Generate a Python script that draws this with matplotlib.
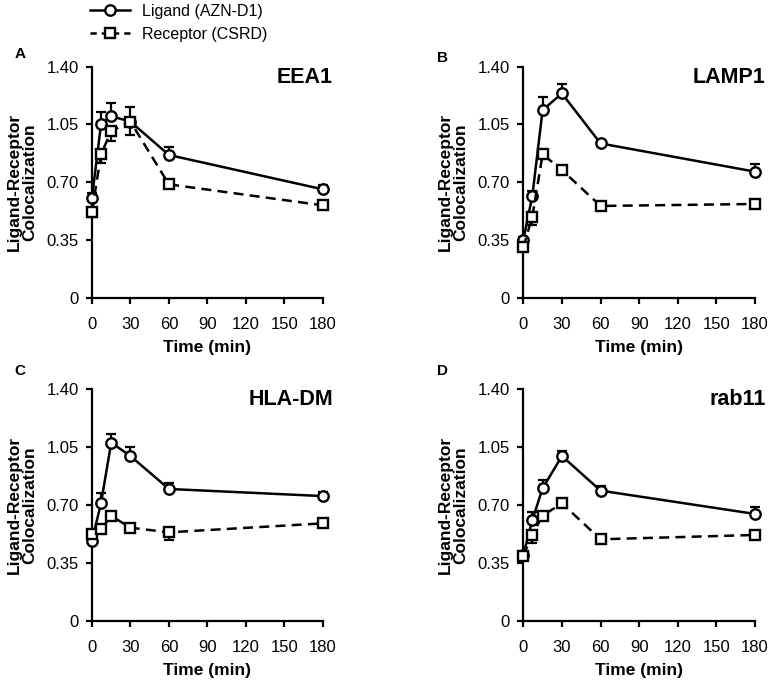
import matplotlib
matplotlib.use("Agg")
import matplotlib.pyplot as plt
from matplotlib.lines import Line2D

plt.rcParams.update({
    "font.family": "Liberation Sans",
    "axes.linewidth": 1.6,
    "xtick.major.width": 1.6,
    "ytick.major.width": 1.6,
    "xtick.major.size": 4.5,
    "ytick.major.size": 4.5,
    "xtick.labelsize": 12,
    "ytick.labelsize": 12,
})

# ---- data ----
time_min = [0, 7, 15, 30, 60, 180]
panels = ["A", "B", "C", "D"]
markers_names = ["EEA1", "LAMP1", "HLA-DM", "rab11"]

ligand = {
    "A": [0.606, 1.05, 1.10, 1.067, 0.865, 0.657],
    "B": [0.35, 0.616, 1.137, 1.238, 0.935, 0.764],
    "C": [0.483, 0.709, 1.076, 0.995, 0.796, 0.753],
    "D": [0.397, 0.608, 0.80, 0.995, 0.786, 0.645],
}
ligand_err = {
    "A": [0.03, 0.073, 0.08, 0.09, 0.05, 0.026],
    "B": [0.02, 0.03, 0.077, 0.057, 0.02, 0.046],
    "C": [0.02, 0.06, 0.05, 0.056, 0.034, 0.026],
    "D": [0.02, 0.05, 0.05, 0.03, 0.03, 0.044],
}
receptor = {
    "A": [0.521, 0.869, 1.01, 1.067, 0.687, 0.56],
    "B": [0.305, 0.491, 0.869, 0.774, 0.556, 0.568],
    "C": [0.524, 0.552, 0.633, 0.562, 0.534, 0.588],
    "D": [0.393, 0.518, 0.635, 0.709, 0.492, 0.518],
}
receptor_err = {
    "A": [0.03, 0.055, 0.06, 0.08, 0.02, 0.02],
    "B": [0.02, 0.05, 0.02, 0.02, 0.02, 0.01],
    "C": [0.02, 0.02, 0.02, 0.01, 0.046, 0.02],
    "D": [0.02, 0.05, 0.02, 0.02, 0.02, 0.02],
}

yticks = [0, 0.35, 0.70, 1.05, 1.40]
ytick_labels = ["0", "0.35", "0.70", "1.05", "1.40"]
xticks = [0, 30, 60, 90, 120, 150, 180]

W, H = 770, 683
fig = plt.figure(figsize=(W / 100, H / 100), dpi=100)

# axes boxes in pixels: (left, top, right, bottom)
boxes = {
    "A": (92, 66.7, 322.7, 297.7),
    "B": (523.3, 66.7, 755, 297.7),
    "C": (92, 389, 322.7, 620.7),
    "D": (523.3, 389, 755, 620.7),
}
letter_pos = {"A": (20, 54), "B": (442, 58), "C": (20, 371), "D": (442, 371)}

for p, name in zip(panels, markers_names):
    l, t, r, b = boxes[p]
    ax = fig.add_axes([l / W, 1 - b / H, (r - l) / W, (b - t) / H])
    for s in ("top", "right"):
        ax.spines[s].set_visible(False)

    ax.errorbar(time_min, ligand[p],
                yerr=[[0] * 6, ligand_err[p]],
                fmt="none", ecolor="black", elinewidth=1.6, capsize=3.5,
                capthick=1.6, zorder=2, clip_on=False)
    ax.errorbar(time_min, receptor[p],
                yerr=[receptor_err[p], [0] * 6],
                fmt="none", ecolor="black", elinewidth=1.6, capsize=3.5,
                capthick=1.6, zorder=2, clip_on=False)
    ax.plot(time_min, ligand[p], color="black", lw=1.8, marker="o",
            ms=7.5, mfc="white", mec="black", mew=1.7, zorder=4, clip_on=False)
    ax.plot(time_min, receptor[p], color="black", lw=1.8, ls=(0, (4, 2.5)),
            marker="s", ms=7.2, mfc="white", mec="black", mew=1.7,
            zorder=5, clip_on=False)

    ax.set_xlim(0, 180)
    ax.set_ylim(0, 1.40)
    ax.set_xticks(xticks)
    ax.set_yticks(yticks)
    ax.set_yticklabels(ytick_labels)
    ax.tick_params(axis="x", direction="out", pad=9.5)
    ax.tick_params(axis="y", direction="out", pad=5)
    ax.set_xlabel("Time (min)", fontsize=12.5, fontweight="bold", labelpad=6)
    ax.set_ylabel("Ligand-Receptor\nColocalization", fontsize=12.5,
                  fontweight="bold", labelpad=7, linespacing=1.0)
    ax.text(1.045, 1.0, name, transform=ax.transAxes, ha="right", va="top",
            fontsize=15.5, fontweight="bold")

    lx, ly = letter_pos[p]
    fig.text(lx / W, 1 - ly / H, p, ha="center", va="center",
             fontsize=11, fontweight="bold")

handles = [
    Line2D([], [], color="black", lw=1.8, marker="o", ms=7.5, mfc="white",
           mec="black", mew=1.7),
    Line2D([], [], color="black", lw=1.8, ls=(0, (2.5, 2)), marker="s",
           ms=7.2, mfc="white", mec="black", mew=1.7),
]
fig.legend(handles, ["Ligand (AZN-D1)", "Receptor (CSRD)"],
           loc="upper left", bbox_to_anchor=(90 / W, 1 - 4 / H),
           frameon=False, fontsize=11.5, handlelength=2.5,
           handletextpad=0.75, labelspacing=0.5, borderpad=0,
           borderaxespad=0)

fig.savefig("out.png", dpi=100)
